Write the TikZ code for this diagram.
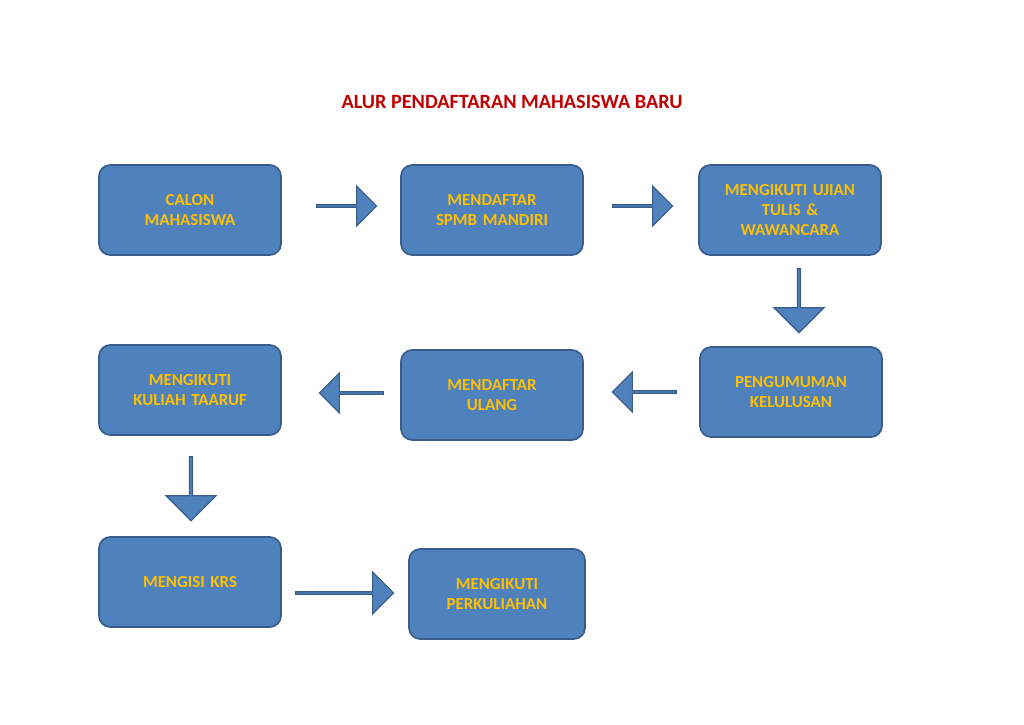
\documentclass[tikz,border=0pt]{standalone}
\usepackage{fontspec}
\setmainfont{Carlito}
\usetikzlibrary{shapes.arrows}
\definecolor{boxblue}{HTML}{4F81BD}
\definecolor{boxline}{HTML}{385D8A}
\definecolor{gold}{HTML}{FFC000}
\definecolor{titlered}{HTML}{C00000}
\tikzset{
  stepbox/.style={draw=boxline, line width=1.2pt, fill=boxblue, rounded corners=8pt,
    text=gold, font=\bfseries\large, align=center, text width=4cm,
    minimum width=4.55cm, minimum height=2.25cm, inner sep=0pt},
  flow/.style={single arrow, draw=boxline, line width=0.8pt, fill=boxblue,
    minimum width=1cm, single arrow head extend=0.22cm, inner sep=0pt}
}
\begin{document}
\begin{tikzpicture}[x=0.025cm,y=-0.025cm]
			\useasboundingbox (0,0) rectangle (1024,724);
			\node at (512,102) (title) {\bfseries\Large\color{titlered}ALUR PENDAFTARAN MAHASISWA BARU};

			\node[stepbox] at (190,210) (calon) {CALON\\MAHASISWA};
			\node[stepbox] at (492,210) (spmb) {MENDAFTAR\\SPMB MANDIRI};
			\node[stepbox] at (790,210) (ujian) {MENGIKUTI UJIAN\\TULIS \&\\WAWANCARA};
			\node[stepbox] at (791,392) (umum) {PENGUMUMAN\\KELULUSAN};
			\node[stepbox] at (492,395) (ulang) {MENDAFTAR\\ULANG};
			\node[stepbox] at (190,390) (taaruf) {MENGIKUTI\\KULIAH TAARUF};
			\node[stepbox] at (190,582) (krs) {MENGISI KRS};
			\node[stepbox, minimum width=4.4cm] at (497,594) (kuliah) {MENGIKUTI\\PERKULIAHAN};

			\node[flow, minimum height=1.5cm] at (346,206) (a1) {};
			\node[flow, minimum height=1.5cm] at (642,206) (a2) {};
			\node[flow, minimum height=1.6cm, minimum width=1.25cm, rotate=-90] at (799,300) (a3) {};
			\node[flow, minimum height=1.6cm, rotate=180] at (645,392) (a4) {};
			\node[flow, minimum height=1.6cm, rotate=180] at (352,393) (a5) {};
			\node[flow, minimum height=1.6cm, minimum width=1.25cm, rotate=-90] at (191,488) (a6) {};
			\node[flow, minimum height=2.45cm, minimum width=1.05cm] at (344,593) (a7) {};
		\end{tikzpicture}
\end{document}
